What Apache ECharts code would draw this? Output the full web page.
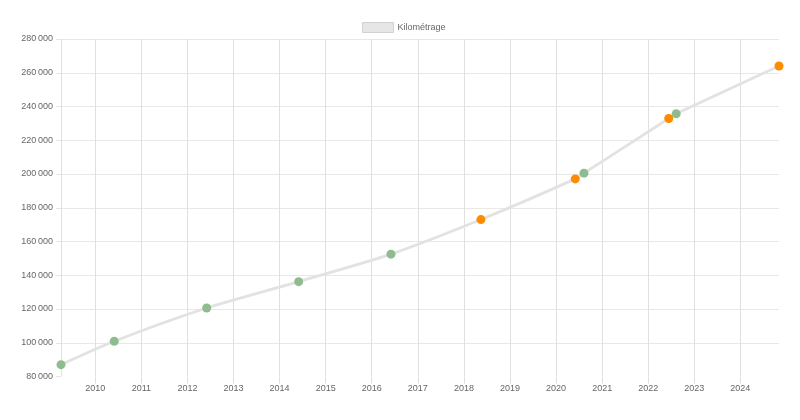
<!DOCTYPE html>
<html>
<head>
<meta charset="utf-8">
<script src="https://cdn.jsdelivr.net/npm/echarts@6/dist/echarts.min.js"></script>
<style>
html,body{margin:0;padding:0;background:#fff;}
#chart{width:800px;height:420px;}
</style>
</head>
<body>
<div id="chart"></div>
<script>
var seriesName = 'Kilométrage';
var dates = ['2009-04-04','2010-05-31','2012-06-02','2014-06-01','2016-06-02','2018-05-16','2020-06-02','2020-08-10','2022-06-13','2022-08-11','2024-11-03'];
var km = [87000,100900,120600,136200,152500,173000,197100,200500,232900,235700,264000];
var pointColors = ['#8fbc8f','#8fbc8f','#8fbc8f','#8fbc8f','#8fbc8f','#ff8c00','#ff8c00','#8fbc8f','#ff8c00','#8fbc8f','#ff8c00'];
var yMin = 80000, yMax = 280000, yStep = 20000;

function fmt(v){ return String(v).replace(/\B(?=(\d{3})+(?!\d))/g, '\u202f'); }

var data = dates.map(function(d, i){
  return { value: [d, km[i]], itemStyle: { color: pointColors[i] } };
});

var chart = echarts.init(document.getElementById('chart'));
chart.setOption({
  animation: false,
  textStyle: { fontFamily: 'Liberation Sans, Arial, sans-serif' },
  legend: {
    top: 17, left: 357,
    icon: 'rect', itemWidth: 31, itemHeight: 10, itemGap: 10,
    itemStyle: { color: '#e6e6e6', borderColor: '#d2d2d2', borderWidth: 1 },
    textStyle: { fontSize: 9, color: '#666', padding: [0,0,0,-1] },
    data: [seriesName]
  },
  grid: { left: 61, right: 21, top: 39, bottom: 43.5, containLabel: false },
  xAxis: {
    type: 'time',
    min: 'dataMin', max: 'dataMax',
    splitNumber: 15,
    minInterval: 365 * 24 * 3600 * 1000,
    axisLine: { show: false },
    axisTick: { show: true, length: 7, lineStyle: { color: '#e0e0e0' } },
    axisLabel: {
      fontSize: 9, color: '#666', margin: 8,
      showMinLabel: false, showMaxLabel: false,
      formatter: '{yyyy}'
    },
    splitLine: { show: true, showMaxLine: false, lineStyle: { color: '#e0e0e0' } }
  },
  yAxis: {
    type: 'value',
    min: yMin, max: yMax, interval: yStep,
    axisLine: { show: false },
    axisTick: { show: true, length: 5, lineStyle: { color: '#e6e6e6' } },
    axisLabel: { fontSize: 9, color: '#666', margin: 8, formatter: fmt },
    splitLine: { show: true, showMinLine: false, lineStyle: { color: '#e8e8e8' } }
  },
  series: [{
    name: seriesName,
    type: 'line',
    data: data,
    smooth: 0.25,
    symbol: 'circle',
    symbolSize: 9,
    lineStyle: { color: '#e2e2e2', width: 2.8 },
    itemStyle: { color: '#e6e6e6' }
  }]
});
</script>
</body>
</html>
